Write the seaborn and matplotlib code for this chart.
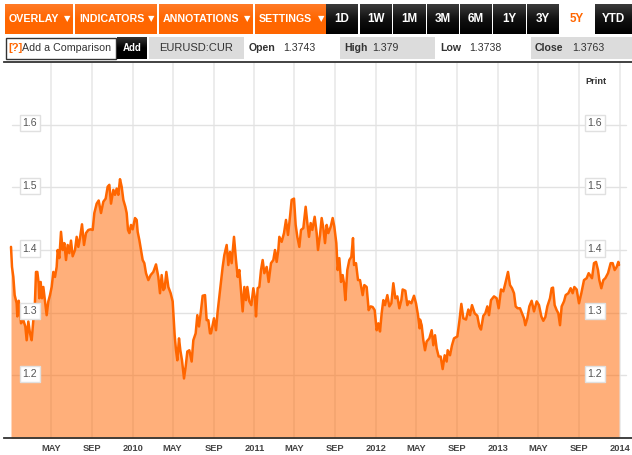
import numpy as np
import pandas as pd
import seaborn as sns
import matplotlib

matplotlib.use("Agg")
import matplotlib.pyplot as plt
from matplotlib.patches import Rectangle

# Days since the first of January 2009, and EURUSD close on that day
days = [
    0, 3, 7, 11, 17, 19, 23, 27, 30, 37, 43, 47, 52, 57, 62, 67, 71, 75, 79, 83,
    85, 89, 93, 97, 102, 107, 112, 117, 122, 127, 132, 137, 140, 145, 150, 155, 160, 165, 170, 175,
    180, 185, 192, 197, 202, 207, 213, 219, 225, 232, 239, 245, 250, 257, 263, 270, 277, 284, 290, 295,
    300, 307, 312, 317, 322, 327, 332, 337, 343, 347, 351, 355, 360, 365, 372, 377, 380, 385, 391, 395,
    400, 405, 412, 419, 427, 435, 442, 447, 452, 457, 461, 466, 472, 479, 485, 487, 491, 495, 499, 504,
    508, 513, 519, 524, 529, 535, 542, 547, 554, 559, 564, 569, 575, 582, 587, 592, 597,
    600, 605, 609, 615, 620, 625, 630, 635, 640, 647, 652, 657, 662, 669, 675, 680, 685, 690, 695, 700,
    705, 709, 715, 721, 727, 732, 735, 740, 745, 750, 755, 760, 767, 773, 780, 787, 792, 797, 802, 805,
    812, 819, 825, 831, 837, 842, 849, 854, 859, 865, 870, 877, 884, 889, 894, 899, 904, 911, 917, 921,
    927, 932, 937, 942, 947, 952, 959, 965, 970, 976, 980, 985, 990, 995, 999, 1003, 1009, 1015, 1021, 1026,
    1029, 1035, 1041, 1047, 1055, 1060, 1067, 1073, 1079, 1085, 1091, 1097, 1102, 1107, 1112, 1117, 1122, 1129, 1135, 1141,
    1147, 1153, 1159, 1165, 1171, 1175, 1183, 1189, 1194, 1201, 1209, 1215, 1221, 1226,
    1227, 1232, 1237, 1242, 1247, 1255, 1262, 1267, 1272, 1277, 1283, 1289, 1295, 1301, 1307, 1310, 1317, 1323, 1329, 1339,
    1345, 1351, 1357, 1365, 1372, 1377, 1383, 1391, 1399, 1405, 1410, 1417, 1423, 1429, 1434, 1440, 1449, 1457, 1463, 1470,
    1477, 1484, 1491, 1497, 1503, 1509, 1514, 1520, 1527, 1533, 1539, 1543, 1549, 1555, 1562, 1569, 1577, 1584, 1591, 1597,
    1603, 1609, 1617, 1622, 1626, 1631, 1637, 1642, 1647, 1652, 1659, 1664, 1672, 1679, 1685, 1690, 1697, 1704, 1711, 1719,
    1727, 1733, 1743, 1749, 1755, 1761, 1765, 1771, 1777, 1783, 1791, 1799, 1805, 1811, 1817, 1822, 1824,
]
prices = [
    1.405, 1.373, 1.357, 1.328, 1.315, 1.294, 1.319, 1.304, 1.283, 1.288, 1.278, 1.256, 1.286, 1.267, 1.256, 1.288, 1.304, 1.365, 1.365, 1.347,
    1.323, 1.349, 1.323, 1.341, 1.318, 1.296, 1.318, 1.328, 1.341, 1.365, 1.357, 1.373, 1.400, 1.387, 1.429, 1.400, 1.411, 1.384, 1.408, 1.395,
    1.415, 1.390, 1.400, 1.421, 1.405, 1.419, 1.441, 1.408, 1.427, 1.432, 1.433, 1.432, 1.459, 1.474, 1.479, 1.459, 1.477, 1.482, 1.501, 1.504,
    1.474, 1.496, 1.488, 1.498, 1.488, 1.513, 1.501, 1.480, 1.469, 1.459, 1.432, 1.427, 1.440, 1.433, 1.451, 1.448, 1.429, 1.416, 1.397, 1.384,
    1.379, 1.363, 1.352, 1.360, 1.365, 1.377, 1.357, 1.331, 1.360, 1.336, 1.339, 1.365, 1.341, 1.331, 1.318, 1.299, 1.264, 1.240, 1.224, 1.259,
    1.240, 1.224, 1.195, 1.214, 1.238, 1.240, 1.222, 1.256, 1.267, 1.296, 1.278, 1.299, 1.327, 1.328, 1.288, 1.288, 1.267,
    1.267, 1.280, 1.291, 1.272, 1.302, 1.326, 1.349, 1.373, 1.392, 1.408, 1.376, 1.397, 1.379, 1.421, 1.384, 1.357, 1.368, 1.336, 1.302, 1.341,
    1.320, 1.341, 1.318, 1.312, 1.339, 1.323, 1.294, 1.339, 1.341, 1.368, 1.384, 1.363, 1.373, 1.349, 1.379, 1.384, 1.400, 1.381, 1.400, 1.421,
    1.413, 1.427, 1.448, 1.424, 1.453, 1.480, 1.482, 1.440, 1.421, 1.405, 1.432, 1.435, 1.469, 1.443, 1.421, 1.443, 1.432, 1.453, 1.427, 1.400,
    1.424, 1.451, 1.435, 1.411, 1.440, 1.427, 1.437, 1.451, 1.437, 1.411, 1.368, 1.387, 1.349, 1.360, 1.347, 1.320, 1.368, 1.384, 1.389, 1.419,
    1.376, 1.379, 1.352, 1.352, 1.328, 1.344, 1.341, 1.304, 1.310, 1.309, 1.304, 1.272, 1.283, 1.270, 1.299, 1.320, 1.312, 1.328, 1.310, 1.315,
    1.347, 1.323, 1.326, 1.307, 1.320, 1.337, 1.335, 1.312, 1.318, 1.315, 1.327, 1.315, 1.296, 1.275,
    1.289, 1.280, 1.256, 1.240, 1.254, 1.259, 1.272, 1.248, 1.264, 1.243, 1.230, 1.230, 1.210, 1.232, 1.222, 1.240, 1.232, 1.248, 1.259, 1.262,
    1.286, 1.314, 1.291, 1.289, 1.305, 1.296, 1.312, 1.299, 1.295, 1.278, 1.273, 1.295, 1.299, 1.310, 1.296, 1.320, 1.326, 1.323, 1.307, 1.337,
    1.334, 1.349, 1.365, 1.344, 1.339, 1.331, 1.310, 1.307, 1.307, 1.299, 1.291, 1.280, 1.291, 1.310, 1.319, 1.302, 1.318, 1.312, 1.294, 1.287,
    1.293, 1.310, 1.323, 1.339, 1.340, 1.312, 1.304, 1.299, 1.280, 1.310, 1.318, 1.328, 1.331, 1.339, 1.331, 1.341, 1.337, 1.315, 1.331, 1.352,
    1.355, 1.363, 1.355, 1.379, 1.381, 1.368, 1.352, 1.339, 1.352, 1.355, 1.363, 1.379, 1.379, 1.368, 1.373, 1.381, 1.376,
]
tick_dates = [
    "2009-05-01", "2009-09-01", "2010-01-01", "2010-05-01", "2010-09-01",
    "2011-01-01", "2011-05-01", "2011-09-01", "2012-01-01", "2012-05-01",
    "2012-09-01", "2013-01-01", "2013-05-01", "2013-09-01", "2014-01-01",
]
tick_labels = [
    "MAY", "SEP", "2010", "MAY", "SEP", "2011", "MAY", "SEP", "2012", "MAY",
    "SEP", "2013", "MAY", "SEP", "2014",
]
y_levels = [1.2, 1.3, 1.4, 1.5, 1.6]

menu_labels = ["OVERLAY", "INDICATORS", "ANNOTATIONS", "SETTINGS"]
range_labels = ["1D", "1W", "1M", "3M", "6M", "1Y", "3Y", "5Y", "YTD"]

ORANGE = "#ff6600"
FONT = "Liberation Sans"

W, H = 632, 455


def px_box(x0, y0, x1, y1):
    """Axes rectangle from pixel coords, y counted from the top."""
    return [x0 / W, 1 - y1 / H, (x1 - x0) / W, (y1 - y0) / H]


def gradient(ax, x0, x1, y0, y1, top, mid, bottom):
    colors = matplotlib.colors.LinearSegmentedColormap.from_list("b", [top, mid, bottom])
    ax.imshow(
        np.linspace(0, 1, 40).reshape(-1, 1),
        extent=(x0, x1, y1, y0),
        cmap=colors,
        aspect="auto",
        zorder=2,
    )


sns.set_style("white")
plt.rcParams["font.family"] = [FONT, "DejaVu Sans"]

fig = plt.figure(figsize=(W / 100, H / 100), dpi=100)

# Chart
ax = fig.add_axes(px_box(4, 62, 632, 438))
start = pd.Timestamp("2009-01-01")
dates = start + pd.to_timedelta(days, unit="D")
ticks = pd.to_datetime(tick_dates)

for t in ticks:
    ax.axvline(t, color="#ebebeb", lw=1.3, zorder=1)
for level in y_levels:
    ax.axhline(level, xmin=0.012, xmax=0.99, color="#e2e2e2", lw=1.0, zorder=1)

ax.fill_between(dates, prices, 1.0, color=ORANGE, alpha=0.52, lw=0, zorder=2)
sns.lineplot(x=dates, y=prices, ax=ax, color=ORANGE, lw=1.8, zorder=3, errorbar=None)

ax.set_xlim(start + pd.Timedelta(days=-21), start + pd.Timedelta(days=1863))
ax.set_ylim(1.1, 1.7)
ax.set_xticks(ticks)
ax.set_xticklabels(tick_labels, fontsize=6.7, fontweight="bold", color="#444444")
ax.set_yticks([])
ax.tick_params(axis="x", length=0, pad=4)
ax.set_xlabel("")
ax.set_ylabel("")
for side in ["left", "right"]:
    ax.spines[side].set_visible(False)
for side in ["top", "bottom"]:
    ax.spines[side].set_color("#333333")
    ax.spines[side].set_linewidth(1.3)

# Price boxes on both sides of the plot
for level in y_levels:
    for xpos in [30, 595]:
        ax.annotate(
            f"{level:.1f}",
            xy=((xpos - 4) / 628, level),
            xycoords=ax.get_yaxis_transform(),
            xytext=(0, 1.5),
            textcoords="offset pixels",
            ha="center",
            va="center",
            fontsize=7.6,
            color="#555555",
            zorder=6,
            bbox=dict(boxstyle="square,pad=0.3", fc="white", ec="#e0e0e0", lw=1),
        )

# Toolbar, in pixel coords
bar = fig.add_axes([0, 0, 1, 1])
bar.set_xlim(0, W)
bar.set_ylim(H, 0)
bar.axis("off")
bar.patch.set_alpha(0)

menu_edges = [(5, 73), (75, 157), (159, 253), (255, 327)]
for (x0, x1), label in zip(menu_edges, menu_labels):
    gradient(bar, x0, x1, 4, 34, "#ff7a26", ORANGE, ORANGE)
    bar.text(x0 + 4, 19, label, color="white", fontsize=7.7, fontweight="bold", va="center", zorder=5)
    bar.text(x1 - 6, 19, "\u25bc", color="white", fontsize=6, va="center", ha="center",
             family="DejaVu Sans", zorder=5)

range_edges = [(326, 358), (360, 392), (393, 426), (427, 459), (460, 492),
               (493, 526), (527, 559), (560, 594), (595, 632)]
for (x0, x1), label in zip(range_edges, range_labels):
    if label == "5Y":
        bar.text((x0 + x1) / 2, 19, label, color=ORANGE, fontsize=8.4, fontweight="bold",
                 ha="center", va="center", zorder=5)
        continue
    gradient(bar, x0, x1, 4, 34, "#3a3a3a", "#111111", "#000000")
    bar.text((x0 + x1) / 2, 19, label, color="white", fontsize=8.4, fontweight="bold",
             ha="center", va="center", zorder=5)

bar.add_patch(Rectangle((5.5, 37.5), 110, 21, fc="white", ec="#333333", lw=1))
bar.text(8, 48, "[?]", color=ORANGE, fontsize=8, fontweight="bold", va="center")
bar.text(22.5, 48, "Add a Comparison", color="#333333", fontsize=7.7, va="center")
gradient(bar, 117, 147, 37, 59, "#333333", "#000000", "#000000")
bar.text(132, 48, "Add", color="white", fontsize=7, fontweight="bold", ha="center", va="center", zorder=5)

bar.add_patch(Rectangle((149, 37), 95, 22, fc="#dcdcdc", ec="none"))
bar.add_patch(Rectangle((340, 37), 95, 22, fc="#dcdcdc", ec="none"))
bar.add_patch(Rectangle((531, 37), 101, 22, fc="#dcdcdc", ec="none"))
bar.text(196.5, 48, "EURUSD:CUR", color="#333333", fontsize=8, ha="center", va="center")

quotes = [("Open", 249, "1.3743", 283), ("High", 344, "1.379", 372),
          ("Low", 440, "1.3738", 469), ("Close", 535, "1.3763", 572)]
for name, name_x, value, value_x in quotes:
    bar.text(name_x, 48, name, color="#333333", fontsize=7.6, fontweight="bold", va="center")
    bar.text(value_x, 48, value, color="#333333", fontsize=7.6, va="center")

bar.text(585, 81, "Print", color="#333333", fontsize=6.6, fontweight="bold", va="center")
bar.set_xlim(0, W)
bar.set_ylim(H, 0)

fig.savefig("out.png", dpi=100)
